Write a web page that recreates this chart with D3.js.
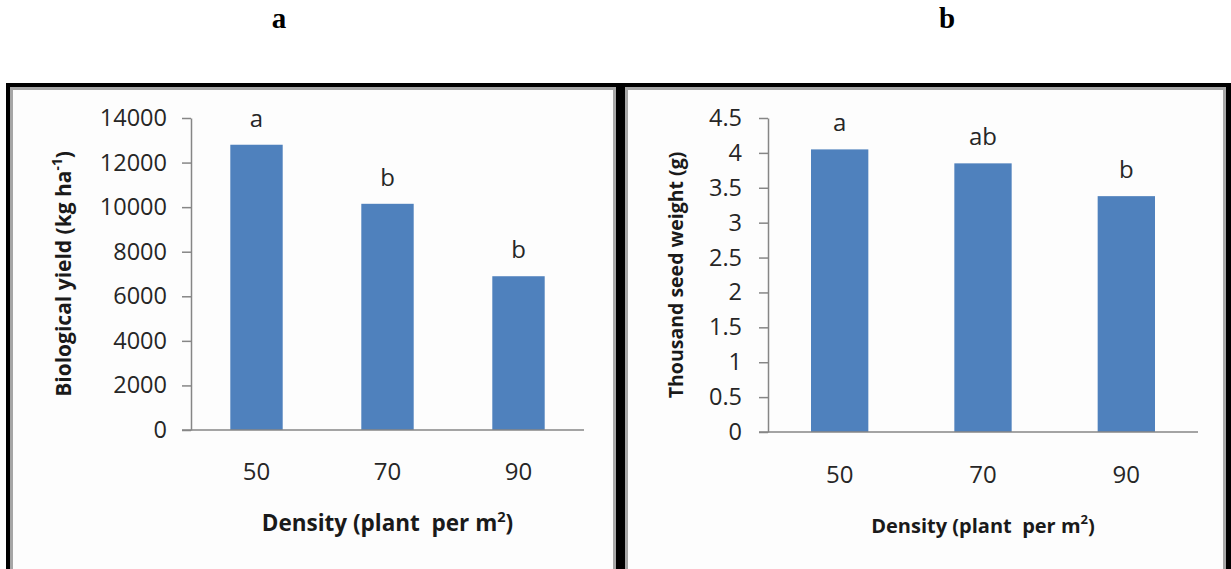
<!DOCTYPE html>
<html>
<head>
<meta charset="utf-8">
<script src="https://cdn.jsdelivr.net/npm/d3@7"></script>
<style>
  html, body { margin: 0; padding: 0; background: #fff; }
  svg { display: block; }
  text { font-family: "Open Sans", "DejaVu Sans", sans-serif; }
</style>
</head>
<body>
<svg id="chart" width="1231" height="569"></svg>
<script>
// ---- data ----
const categories = ["50", "70", "90"];
const biologicalYield = [12800, 10150, 6900];
const yieldLetters = ["a", "b", "b"];
const yieldTicks = [0, 2000, 4000, 6000, 8000, 10000, 12000, 14000];
const seedWeight = [4.05, 3.85, 3.38];
const seedLetters = ["a", "ab", "b"];
const seedTicks = [0, 0.5, 1, 1.5, 2, 2.5, 3, 3.5, 4, 4.5];
const panelLabels = ["a", "b"];

const svg = d3.select("#chart");
const W = 1231, H = 569;

// black frame
svg.append("rect").attr("x", 6).attr("y", 83).attr("width", W - 6).attr("height", H)
  .attr("fill", "#000");

const panels = [
  {
    label: panelLabels[0], labelX: 279,
    box: [10, 87, 616],
    values: biologicalYield, letters: yieldLetters, ticks: yieldTicks,
    xRange: [191, 584], yRange: [430, 118], yMax: 14000,
    yTitle: "Biological yield (kg ha", ySup: "-1", yTitleClose: ")",
    yTitleX: 71, yTitleSize: 21,
    xTitleY: 531, xTitleSize: 22.5,
    catY: 480, tickLen: 9, tickPad: 15
  },
  {
    label: panelLabels[1], labelX: 947,
    box: [625, 87, 1226],
    values: seedWeight, letters: seedLetters, ticks: seedTicks,
    xRange: [768, 1198], yRange: [432, 118], yMax: 4.5,
    yTitle: "Thousand seed weight (g)", ySup: null, yTitleClose: "",
    yTitleX: 683, yTitleSize: 19.5,
    xTitleY: 533, xTitleSize: 20,
    catY: 483, tickLen: 9, tickPad: 17
  }
];

panels.forEach(p => {
  const [bx0, by0, bx1] = p.box;
  svg.append("rect").attr("x", bx0).attr("y", by0).attr("width", bx1 - bx0).attr("height", H)
    .attr("fill", "#a6a6a6");
  svg.append("rect").attr("x", bx0 + 3).attr("y", by0 + 3).attr("width", bx1 - bx0 - 6).attr("height", H)
    .attr("fill", "#fdfdfd");

  svg.append("text").attr("x", p.labelX).attr("y", 28)
    .attr("text-anchor", "middle")
    .style("font-family", "'Liberation Serif', 'Times New Roman', serif")
    .style("font-weight", "bold").style("font-size", "29px")
    .attr("fill", "#000").text(p.label);

  const x = d3.scaleBand().domain(categories).range(p.xRange).padding(0);
  const y = d3.scaleLinear().domain([0, p.yMax]).range(p.yRange);
  const barW = x.bandwidth() * 0.4;

  svg.append("g").selectAll("rect").data(p.values).join("rect")
    .attr("x", (d, i) => x(categories[i]) + (x.bandwidth() - barW) / 2)
    .attr("y", d => y(d))
    .attr("width", barW)
    .attr("height", d => y(0) - y(d))
    .attr("fill", "#4f81bd");

  svg.append("g").selectAll("text").data(p.values).join("text")
    .attr("x", (d, i) => x(categories[i]) + x.bandwidth() / 2)
    .attr("y", d => y(d) - 18)
    .attr("text-anchor", "middle")
    .style("font-size", "24px").attr("fill", "#262626")
    .text((d, i) => p.letters[i]);

  const yAxis = svg.append("g")
    .attr("transform", `translate(${p.xRange[0]},0)`)
    .call(d3.axisLeft(y).tickValues(p.ticks).tickSize(p.tickLen).tickSizeOuter(0)
      .tickPadding(p.tickPad).tickFormat(d => String(d)));
  yAxis.select(".domain").attr("stroke", "#868686").attr("stroke-width", 1.5);
  yAxis.selectAll(".tick line").attr("stroke", "#868686").attr("stroke-width", 1.5);
  yAxis.selectAll(".tick text").attr("fill", "#262626")
    .style("font-size", "23.5px").style("font-family", "'Open Sans', sans-serif");

  const xAxis = svg.append("g")
    .attr("transform", `translate(0,${y(0)})`)
    .call(d3.axisBottom(x).tickSize(0).tickSizeOuter(0).tickPadding(0));
  xAxis.select(".domain").remove();
  xAxis.selectAll(".tick text").remove();
  xAxis.append("line")
    .attr("x1", p.xRange[0] - p.tickLen).attr("x2", p.xRange[1])
    .attr("stroke", "#868686").attr("stroke-width", 1.5);

  svg.append("g").selectAll("text").data(categories).join("text")
    .attr("x", d => x(d) + x.bandwidth() / 2)
    .attr("y", p.catY)
    .attr("text-anchor", "middle")
    .style("font-size", "24px").attr("fill", "#262626")
    .text(d => d);

  const xt = svg.append("text")
    .attr("x", (p.xRange[0] + p.xRange[1]) / 2)
    .attr("y", p.xTitleY)
    .attr("text-anchor", "middle")
    .style("font-size", p.xTitleSize + "px").style("font-weight", "bold")
    .attr("fill", "#1a1a1a");
  xt.append("tspan").text("Density (plant\u00a0 per m");
  xt.append("tspan").attr("dy", -9).style("font-size", (p.xTitleSize * 0.65) + "px").text("2");
  xt.append("tspan").attr("dy", 9).text(")");

  const yc = (p.yRange[0] + p.yRange[1]) / 2;
  const yt = svg.append("text")
    .attr("transform", `translate(${p.yTitleX},${yc}) rotate(-90)`)
    .attr("text-anchor", "middle")
    .style("font-size", p.yTitleSize + "px").style("font-weight", "bold")
    .attr("fill", "#1a1a1a");
  yt.append("tspan").text(p.yTitle);
  if (p.ySup) {
    yt.append("tspan").attr("dy", -9).style("font-size", (p.yTitleSize * 0.65) + "px").text(p.ySup);
    yt.append("tspan").attr("dy", 9).text(p.yTitleClose);
  }
});
</script>
</body>
</html>
